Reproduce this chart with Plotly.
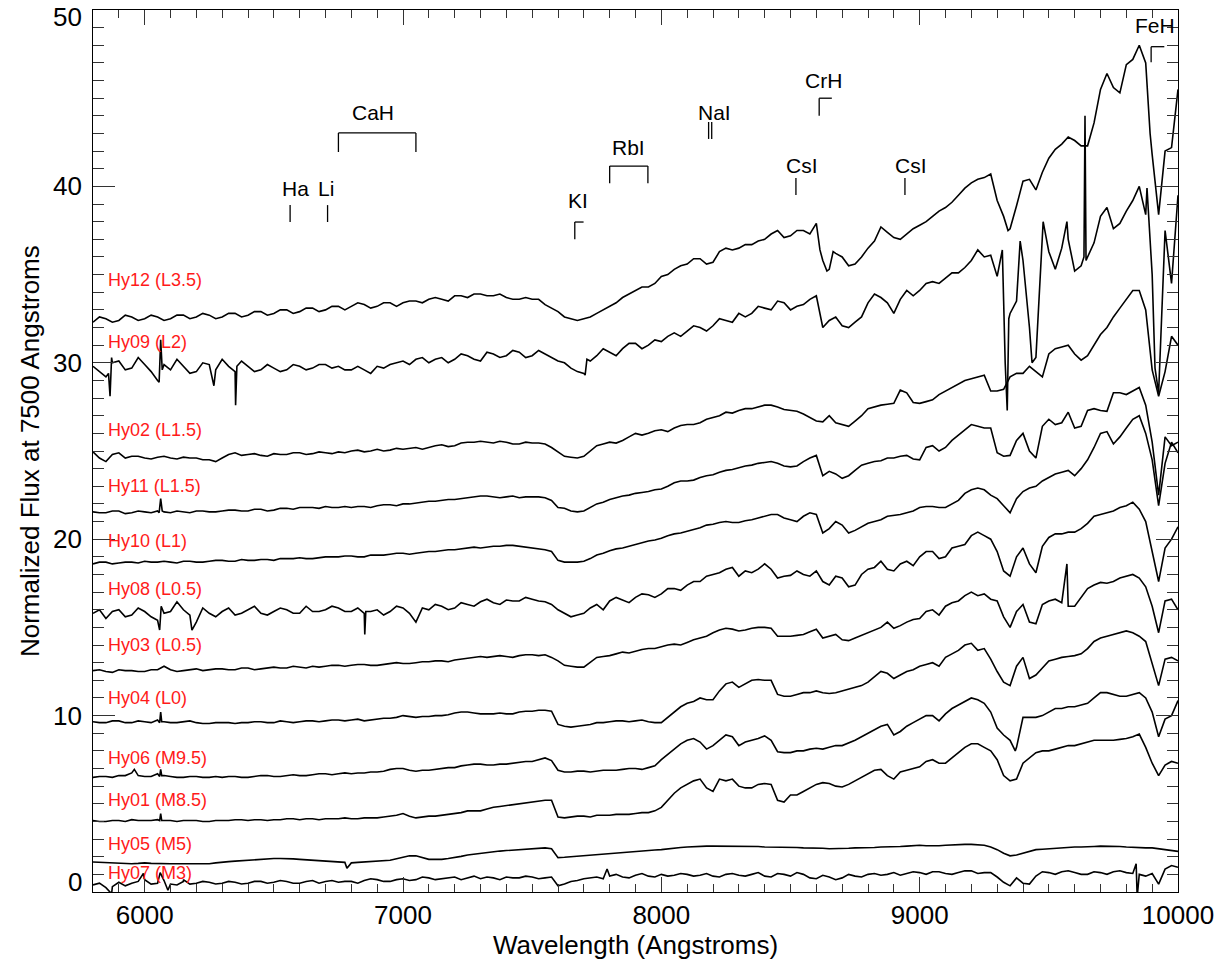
import plotly.graph_objects as go

# ---------------- data ----------------
WAVE = list(range(5800, 9901, 50)) + [9925, 9950, 9975, 10000]   # main sampling
WAVE_MID = list(range(5825, 9876, 50))                              # in-between samples

NAMES = ["Hy12 (L3.5)", "Hy09 (L2)", "Hy02 (L1.5)", "Hy11 (L1.5)", "Hy10 (L1)",
         "Hy08 (L0.5)", "Hy03 (L0.5)", "Hy04 (L0)", "Hy06 (M9.5)", "Hy01 (M8.5)",
         "Hy05 (M5)", "Hy07 (M3)"]
LABEL_Y = [34.7, 31.2, 26.2, 23.0, 19.9, 17.2, 14.0, 11.0, 7.6, 5.2, 2.7, 1.1]
LABEL_X = 5850

HY12 = [32.3, 32.5, 32.4, 32.6, 32.5, 32.6, 32.5, 32.7, 32.6, 32.7,
        32.6, 32.8, 32.7, 32.9, 32.8, 33.0, 32.9, 33.1, 33.0, 33.2,
        33.2, 33.3, 33.2, 33.4, 33.4, 33.5, 33.6, 33.6, 33.8, 33.7,
        33.9, 33.8, 33.7, 33.6, 33.6, 33.3, 32.9, 32.5, 32.5, 32.8,
        33.2, 33.7, 34.1, 34.3, 34.9, 35.3, 35.6, 35.9, 35.7, 36.5,
        36.5, 36.7, 37.0, 37.5, 37.2, 37.5, 37.9, 35.3, 36.0, 35.6,
        36.5, 37.7, 37.1, 37.3, 37.8, 38.3, 38.8, 39.5, 40.2, 40.5,
        39.2, 37.6, 40.3, 39.8, 41.6, 42.4, 42.6, 42.3, 45.5, 45.6,
        46.9, 48.0, 41.8, 38.4, 42.0, 42.2, 45.5]
HY12_MID = [32.6, 32.3, 32.7, 32.4, 32.7, 32.4, 32.7, 32.5, 32.8, 32.5,
            32.8, 32.6, 32.9, 32.7, 33.0, 32.8, 33.1, 32.9, 33.2, 33.0,
            33.4, 33.1, 33.4, 33.2, 33.5, 33.4, 33.7, 33.5, 33.8, 33.9,
            33.8, 33.9, 33.6, 33.7, 33.6, 33.1, 32.6, 32.4, 32.6, 33.0,
            33.4, 33.9, 34.3, 34.5, 35.0, 35.5, 35.9, 35.6, 36.3, 36.4,
            36.7, 36.9, 37.3, 37.1, 37.5, 37.3, 35.8, 36.2, 35.5, 36.0,
            36.9, 37.4, 37.0, 37.6, 38.0, 38.6, 39.1, 39.9, 40.4, 40.7,
            38.3, 38.9, 40.4, 40.8, 42.1, 42.8, 42.3, 43.6, 46.4, 45.3,
            47.2, 47.0]
HY12_EXTRA = [(8614, 36.4), (8641, 35.2), (8665, 36.3), (9342, 37.5),
              (9892, 43.0), (9911, 40.2)]

HY09 = [29.8, 29.2, 30.1, 29.7, 29.9, 29.0, 29.6, 29.8, 29.5, 29.9,
        30.2, 29.5, 29.8, 29.6, 29.7, 29.6, 29.8, 29.7, 29.9, 29.8,
        29.6, 29.6, 29.8, 29.9, 30.1, 30.2, 30.0, 30.3, 30.2, 30.4,
        30.1, 30.5, 30.4, 30.6, 30.4, 30.5, 30.1, 29.7, 29.4, 30.4,
        30.6, 30.8, 31.1, 31.0, 31.2, 31.7, 31.8, 32.0, 32.1, 32.4,
        32.8, 32.8, 33.1, 33.5, 33.0, 33.3, 33.8, 32.4, 32.1, 32.3,
        33.4, 33.7, 32.8, 34.1, 34.1, 34.6, 34.8, 35.1, 35.8, 36.0,
        34.9, 32.8, 35.8, 30.3, 36.3, 36.5, 35.2, 36.0, 38.3, 37.6,
        38.6, 40.0, 35.0, 28.3, 37.5, 34.5, 39.5]
HY09_MID = [29.5, 30.0, 29.6, 30.3, 29.5, 29.9, 30.2, 29.4, 30.0, 29.6,
            29.8, 30.1, 29.5, 29.9, 29.5, 29.9, 29.6, 29.9, 29.7, 29.6,
            29.8, 29.4, 29.7, 30.0, 29.9, 30.3, 30.2, 30.0, 30.5, 30.2,
            30.6, 30.3, 30.7, 30.3, 30.7, 30.3, 30.0, 29.5, 30.1, 30.8,
            30.4, 31.1, 30.8, 31.3, 31.5, 31.5, 32.1, 31.8, 32.5, 32.3,
            32.6, 33.2, 33.0, 33.4, 33.2, 33.6, 32.0, 32.6, 32.0, 32.6,
            33.9, 33.4, 33.6, 33.8, 34.5, 34.5, 35.1, 35.4, 36.4, 36.1,
            33.5, 33.5, 32.0, 37.5, 35.3, 37.0, 35.5, 36.8, 38.8, 37.9,
            39.2, 38.4]
HY09_EXTRA = [(5860, 29.4), (5866, 28.1), (5872, 30.3), (6056, 28.9), (6062, 31.3),
              (6068, 29.6), (6268, 28.7), (6352, 27.6), (6357, 29.8), (7705, 29.3),
              (7712, 30.2), (9320, 36.4), (9331, 30.0), (9339, 27.3), (9345, 32.5),
              (9389, 36.9), (9435, 30.0), (9478, 38.0), (9570, 38.0), (9636, 36.0),
              (9640, 44.0), (9644, 35.8), (9880, 39.9), (9911, 29.7)]

HY02 = [24.95, 24.4, 24.9, 24.7, 24.6, 24.65, 24.6, 24.65, 24.6, 24.5,
        24.6, 24.9, 24.8, 24.75, 24.85, 24.8, 24.9, 24.85, 24.9, 24.95,
        25.0, 24.95, 25.1, 25.05, 25.1, 25.2, 25.2, 25.35, 25.3, 25.5,
        25.55, 25.45, 25.5, 25.4, 25.45, 25.4, 24.95, 24.65, 24.7, 25.3,
        25.5, 25.6, 26.0, 26.0, 26.2, 26.3, 26.5, 26.6, 26.9, 27.2,
        27.3, 27.4, 27.6, 27.5, 27.3, 27.1, 26.7, 27.0, 26.5, 26.7,
        27.4, 27.6, 27.7, 28.3, 27.7, 27.9, 28.4, 28.8, 29.1, 29.3,
        28.4, 29.2, 29.4, 29.5, 30.5, 30.9, 30.5, 30.4, 31.6, 32.6,
        33.6, 34.1, 29.6, 28.1, 29.5, 31.5, 31.0]
HY02_MID = [24.6, 24.8, 24.6, 24.7, 24.55, 24.7, 24.55, 24.6, 24.5, 24.4,
            24.8, 24.75, 24.85, 24.7, 24.8, 24.9, 24.8, 24.95, 24.85, 24.9,
            25.05, 25.0, 25.0, 25.15, 25.15, 25.1, 25.3, 25.25, 25.45, 25.5,
            25.5, 25.55, 25.4, 25.5, 25.45, 25.2, 24.7, 24.6, 25.0, 25.4,
            25.45, 25.8, 25.9, 26.15, 26.1, 26.45, 26.5, 26.8, 27.0, 27.15,
            27.4, 27.5, 27.6, 27.35, 27.25, 26.9, 26.65, 26.6, 26.4, 27.0,
            27.5, 27.65, 28.45, 27.75, 27.8, 28.2, 28.6, 29.0, 29.2, 28.4,
            28.5, 29.4, 29.8, 29.2, 30.8, 31.0, 30.15, 31.0, 32.0, 33.1,
            34.1, 33.0]
HY02_EXTRA = []

HY11 = [21.55, 21.5, 21.6, 21.5, 21.55, 21.6, 21.5, 21.55, 21.6, 21.55,
        21.6, 21.65, 21.6, 21.7, 21.65, 21.75, 21.8, 21.8, 21.85, 21.8,
        21.8, 21.85, 21.9, 21.95, 22.0, 22.05, 22.15, 22.2, 22.25, 22.35,
        22.45, 22.4, 22.4, 22.35, 22.4, 22.35, 21.8, 21.6, 21.6, 22.0,
        22.25, 22.45, 22.6, 22.7, 22.85, 23.2, 23.3, 23.5, 23.65, 23.9,
        24.05, 24.2, 24.35, 24.3, 24.1, 24.4, 24.75, 23.85, 23.45, 23.9,
        24.3, 24.45, 24.6, 24.75, 24.5, 25.3, 25.2, 25.9, 26.5, 26.3,
        24.9, 24.75, 26.0, 24.6, 26.8, 26.6, 26.3, 27.3, 27.3, 28.3,
        28.2, 28.6, 25.5, 22.5, 25.8, 25.3, 25.5]
HY11_MID = [21.5, 21.6, 21.45, 21.6, 21.5, 21.55, 21.6, 21.5, 21.6, 21.55,
            21.65, 21.6, 21.7, 21.6, 21.75, 21.7, 21.8, 21.75, 21.8, 21.85,
            21.85, 21.8, 21.95, 21.9, 22.0, 22.1, 22.15, 22.25, 22.3, 22.4,
            22.45, 22.35, 22.45, 22.4, 22.4, 22.2, 21.75, 21.55, 21.8, 22.1,
            22.35, 22.5, 22.65, 22.8, 23.0, 23.3, 23.35, 23.6, 23.8, 23.95,
            24.15, 24.3, 24.4, 24.15, 24.15, 24.6, 23.6, 23.7, 23.6, 24.2,
            24.4, 24.6, 24.7, 24.55, 25.2, 25.0, 25.6, 26.2, 26.4, 26.3,
            24.7, 25.6, 25.0, 26.4, 26.5, 27.2, 26.4, 27.4, 27.25, 28.3,
            28.4, 27.6]
HY11_EXTRA = [(6056, 21.5), (6062, 22.3), (6068, 21.6)]

HY10 = [18.6, 18.7, 18.65, 18.7, 18.75, 18.7, 18.7, 18.75, 18.7, 18.75,
        18.8, 18.75, 18.8, 18.85, 18.8, 18.9, 18.95, 18.9, 19.0, 19.0,
        19.05, 19.0, 19.1, 19.15, 19.2, 19.2, 19.3, 19.35, 19.4, 19.5,
        19.5, 19.6, 19.65, 19.6, 19.5, 19.4, 18.8, 18.7, 18.75, 19.1,
        19.35, 19.5, 19.7, 19.9, 20.05, 20.3, 20.45, 20.65, 20.85, 21.0,
        20.95, 21.1, 21.3, 21.4, 21.1, 21.3, 21.4, 20.6, 20.8, 20.5,
        20.9, 21.1, 21.35, 21.5, 21.8, 21.85, 21.8, 22.2, 22.8, 22.8,
        22.3, 21.5, 22.7, 23.0, 23.5, 23.8, 23.6, 24.5, 26.0, 25.4,
        26.3, 27.0, 24.5, 21.9, 24.3, 25.5, 24.9]
HY10_MID = [18.7, 18.6, 18.7, 18.65, 18.7, 18.75, 18.65, 18.75, 18.7, 18.8,
            18.75, 18.85, 18.8, 18.85, 18.9, 18.9, 18.9, 18.95, 19.0, 19.05,
            19.0, 19.1, 19.1, 19.2, 19.15, 19.25, 19.3, 19.4, 19.45, 19.55,
            19.55, 19.6, 19.65, 19.55, 19.45, 19.3, 18.7, 18.7, 18.9, 19.2,
            19.45, 19.6, 19.8, 19.95, 20.2, 20.35, 20.55, 20.8, 20.95, 20.95,
            21.05, 21.2, 21.4, 21.2, 21.0, 21.5, 20.35, 21.0, 20.35, 20.7,
            21.0, 21.3, 21.4, 21.6, 21.85, 21.8, 22.0, 22.6, 22.9, 22.5,
            21.9, 22.3, 22.9, 23.3, 23.7, 23.9, 24.0, 25.2, 26.1, 25.8,
            26.8, 26.0]
HY10_EXTRA = []

HY08 = [15.8, 15.5, 16.0, 15.7, 15.9, 15.4, 15.9, 16.0, 15.3, 15.8,
        15.9, 15.7, 16.0, 15.8, 15.9, 16.0, 15.8, 15.9, 16.0, 16.1,
        15.9, 15.8, 16.0, 15.9, 16.1, 15.3, 16.0, 16.2, 16.1, 16.3,
        16.45, 16.4, 16.55, 16.5, 16.6, 16.45, 16.0, 15.6, 15.8, 16.3,
        16.5, 16.55, 16.7, 16.85, 16.9, 17.2, 17.4, 17.6, 18.0, 18.3,
        17.9, 18.1, 18.6, 17.8, 17.95, 18.0, 18.2, 17.4, 17.8, 17.4,
        18.3, 18.75, 18.2, 18.75, 19.0, 19.3, 19.0, 19.6, 20.2, 20.2,
        19.3, 17.9, 19.5, 18.1, 20.1, 20.3, 20.4, 20.9, 21.4, 21.6,
        21.9, 21.7, 19.3, 17.6, 19.5, 20.0, 20.7]
HY08_MID = [16.0, 15.9, 15.6, 16.1, 15.6, 15.8, 16.45, 15.7, 16.1, 15.6,
            16.1, 15.8, 16.2, 15.7, 16.1, 15.8, 16.2, 15.9, 16.2, 15.9,
            16.1, 15.9, 15.7, 16.2, 15.8, 16.1, 16.3, 16.0, 16.4, 16.2,
            16.6, 16.3, 16.5, 16.7, 16.5, 16.3, 15.8, 15.7, 16.1, 16.0,
            16.7, 16.4, 16.9, 16.7, 17.2, 17.1, 17.6, 17.9, 18.1, 18.4,
            18.2, 18.3, 18.3, 17.9, 18.2, 17.9, 17.6, 17.9, 17.3, 18.0,
            18.4, 18.3, 18.6, 18.5, 19.3, 18.9, 19.5, 19.7, 20.4, 20.0,
            18.2, 19.0, 18.6, 19.6, 20.3, 20.4, 20.6, 21.3, 21.5, 21.8,
            22.1, 21.0]
HY08_EXTRA = [(6058, 14.85), (6064, 16.2), (6183, 14.85), (6852, 14.6), (6856, 15.9)]

HY03 = [12.55, 12.5, 12.6, 12.55, 12.5, 12.6, 12.6, 12.55, 12.65, 12.6,
        12.65, 12.6, 12.7, 12.65, 12.75, 12.7, 12.75, 12.8, 12.8, 12.85,
        12.85, 12.9, 12.85, 12.95, 12.95, 13.0, 13.05, 13.1, 13.15, 13.25,
        13.35, 13.35, 13.35, 13.4, 13.45, 13.45, 13.1, 12.8, 12.75, 13.3,
        13.4, 13.6, 13.65, 13.8, 13.9, 14.05, 14.15, 14.4, 14.7, 14.95,
        14.8, 14.95, 15.0, 14.5, 14.5, 14.6, 14.9, 14.5, 14.3, 14.4,
        14.7, 15.0, 14.95, 15.3, 15.5, 16.0, 16.2, 16.5, 17.0, 16.9,
        16.5, 15.0, 16.3, 15.2, 16.5, 16.4, 16.2, 17.2, 17.55, 17.6,
        17.9, 17.8, 16.2, 14.7, 16.5, 16.6, 16.0]
HY03_MID = [12.6, 12.45, 12.55, 12.5, 12.6, 12.8, 12.5, 12.6, 12.55, 12.65,
            12.6, 12.7, 12.6, 12.7, 12.7, 12.8, 12.7, 12.75, 12.85, 12.8,
            12.9, 12.85, 12.9, 13.0, 12.95, 13.05, 13.1, 13.05, 13.2, 13.3,
            13.3, 13.4, 13.3, 13.45, 13.4, 13.3, 12.85, 12.75, 13.0, 13.35,
            13.5, 13.55, 13.75, 13.8, 14.0, 14.0, 14.3, 14.5, 14.85, 14.9,
            14.85, 15.0, 14.95, 14.5, 14.55, 14.75, 14.4, 14.6, 14.25, 14.55,
            14.85, 15.3, 15.1, 15.45, 15.9, 15.7, 16.4, 16.8, 16.8, 16.6,
            15.6, 15.9, 15.3, 16.3, 16.6, 16.2, 16.7, 17.4, 17.5, 17.8,
            18.0, 17.3]
HY03_EXTRA = [(9570, 18.6)]

HY04 = [9.65, 9.6, 9.7, 9.6, 9.65, 9.75, 9.6, 9.65, 9.6, 9.55,
        9.6, 9.55, 9.6, 9.65, 9.6, 9.65, 9.65, 9.7, 9.7, 9.75,
        9.75, 9.7, 9.8, 9.85, 10.0, 9.9, 9.95, 10.0, 10.15, 10.2,
        10.1, 10.1, 10.1, 10.2, 10.25, 10.3, 9.5, 9.35, 9.45, 9.6,
        9.65, 9.7, 9.7, 9.65, 9.6, 10.2, 10.7, 11.0, 10.9, 11.8,
        11.6, 12.0, 12.0, 11.2, 11.1, 11.3, 11.4, 11.25, 11.4, 11.6,
        11.9, 12.5, 12.1, 12.5, 12.8, 13.0, 13.3, 13.7, 14.1, 13.8,
        12.5, 11.7, 13.3, 12.3, 13.1, 13.3, 13.4, 13.8, 14.4, 14.6,
        14.8, 14.5, 13.0, 11.7, 13.2, 13.3, 13.1]
HY04_MID = [9.6, 9.7, 9.6, 9.7, 9.6, 9.65, 9.6, 9.7, 9.55, 9.6,
            9.6, 9.6, 9.65, 9.6, 9.7, 9.6, 9.7, 9.65, 9.75, 9.7,
            9.8, 9.75, 9.85, 9.9, 9.95, 9.95, 10.0, 10.05, 10.2, 10.15,
            10.1, 10.15, 10.1, 10.25, 10.3, 10.25, 9.4, 9.4, 9.5, 9.6,
            9.7, 9.65, 9.75, 9.6, 9.9, 10.5, 10.8, 10.9, 11.4, 11.9,
            11.8, 12.05, 12.0, 11.1, 11.2, 11.3, 11.3, 11.3, 11.5, 11.7,
            12.2, 12.4, 12.3, 12.6, 12.9, 12.8, 13.5, 14.0, 13.7, 13.2,
            11.9, 12.8, 12.1, 12.7, 13.2, 13.35, 13.5, 14.2, 14.5, 14.7,
            14.7, 14.2]
HY04_EXTRA = [(6058, 9.6), (6062, 10.2), (6066, 9.65)]

HY06 = [6.5, 6.55, 6.6, 6.75, 6.55, 6.7, 6.55, 6.5, 6.55, 6.5,
        6.5, 6.55, 6.5, 6.6, 6.55, 6.6, 6.6, 6.65, 6.7, 6.7,
        6.7, 6.75, 6.8, 6.95, 7.0, 6.85, 6.9, 7.0, 7.05, 7.2,
        7.25, 7.2, 7.25, 7.35, 7.4, 7.6, 6.9, 6.8, 6.85, 6.85,
        6.9, 6.95, 7.0, 7.05, 7.5, 8.1, 8.6, 8.5, 8.3, 8.9,
        8.3, 8.6, 8.85, 7.95, 7.9, 8.0, 8.15, 8.2, 8.3, 8.6,
        9.0, 9.4, 8.9, 9.4, 9.8, 10.0, 10.1, 10.6, 11.0, 10.7,
        9.3, 8.6, 9.9, 9.9, 10.2, 10.4, 10.5, 10.7, 11.3, 11.2,
        11.1, 11.3, 10.2, 8.8, 9.8, 10.0, 10.85]
HY06_MID = [6.55, 6.5, 6.6, 6.6, 6.55, 6.6, 6.5, 6.55, 6.5, 6.55,
            6.55, 6.5, 6.55, 6.6, 6.55, 6.65, 6.6, 6.7, 6.65, 6.75,
            6.75, 6.8, 6.85, 7.0, 6.9, 6.9, 6.95, 7.05, 7.15, 7.25,
            7.2, 7.25, 7.3, 7.4, 7.5, 7.45, 6.8, 6.85, 6.8, 6.9,
            6.9, 7.0, 6.95, 7.15, 7.8, 8.4, 8.7, 8.1, 8.6, 8.8,
            8.5, 8.7, 8.6, 7.9, 8.0, 8.1, 8.1, 8.3, 8.45, 8.8,
            9.2, 9.5, 9.1, 9.6, 10.0, 9.7, 10.4, 10.8, 10.9, 10.2,
            8.9, 8.2, 9.9, 10.0, 10.4, 10.5, 10.6, 11.0, 11.3, 11.1,
            11.2, 11.0]
HY06_EXTRA = [(5960, 6.95), (6058, 6.55), (6062, 6.95), (6066, 6.6), (9370, 8.0)]

HY01 = [4.05, 4.0, 4.05, 4.1, 4.05, 4.1, 4.05, 4.05, 4.05, 4.0,
        4.05, 4.1, 4.05, 4.1, 4.1, 4.15, 4.1, 4.15, 4.15, 4.15,
        4.15, 4.2, 4.2, 4.3, 4.45, 4.2, 4.3, 4.35, 4.45, 4.6,
        4.6, 4.8, 4.9, 5.0, 5.1, 5.2, 4.25, 4.25, 4.3, 4.35,
        4.35, 4.4, 4.45, 4.5, 4.8, 5.6, 6.1, 6.4, 5.7, 6.3,
        6.0, 5.9, 6.15, 5.2, 5.5, 5.7, 6.1, 6.15, 5.95, 6.3,
        6.7, 6.95, 6.4, 6.9, 7.1, 7.5, 7.3, 7.9, 8.4, 8.2,
        7.5, 6.3, 7.3, 7.9, 8.0, 8.2, 8.3, 8.5, 8.6, 8.6,
        8.7, 8.95, 7.3, 6.6, 7.2, 7.4, 7.3]
HY01_MID = [4.0, 4.05, 4.0, 4.05, 4.05, 4.05, 4.0, 4.05, 4.0, 4.05,
            4.05, 4.1, 4.1, 4.05, 4.1, 4.15, 4.15, 4.1, 4.15, 4.2,
            4.15, 4.2, 4.25, 4.35, 4.3, 4.25, 4.3, 4.4, 4.5, 4.6,
            4.7, 4.85, 4.95, 5.05, 5.15, 5.2, 4.2, 4.3, 4.25, 4.35,
            4.4, 4.4, 4.5, 4.6, 5.2, 5.9, 6.3, 5.9, 6.4, 6.4,
            5.9, 6.1, 6.1, 5.1, 5.5, 5.9, 6.2, 6.0, 6.1, 6.5,
            6.9, 6.6, 6.8, 7.0, 7.4, 7.3, 7.6, 8.2, 8.4, 8.0,
            6.6, 6.4, 7.6, 8.0, 8.1, 8.3, 8.4, 8.6, 8.6, 8.65,
            8.8, 8.2]
HY01_EXTRA = [(6058, 4.05), (6062, 4.45), (6066, 4.05)]

HY05 = [1.7, 1.65, 1.6, 1.6, 1.65, 1.6, 1.6, 1.6, 1.6, 1.6,
        1.7, 1.75, 1.8, 1.85, 1.9, 1.9, 1.85, 1.8, 1.75, 1.7,
        1.65, 1.7, 1.75, 1.8, 1.95, 2.05, 1.85, 1.85, 1.95, 2.1,
        2.2, 2.3, 2.35, 2.4, 2.45, 2.5, 1.95, 2.0, 2.05, 2.15,
        2.2, 2.25, 2.3, 2.35, 2.4, 2.5, 2.55, 2.6, 2.6, 2.6,
        2.6, 2.6, 2.55, 2.55, 2.55, 2.5, 2.5, 2.45, 2.45, 2.5,
        2.5, 2.55, 2.55, 2.6, 2.65, 2.6, 2.65, 2.7, 2.7, 2.65,
        2.4, 2.05, 2.2, 2.4, 2.45, 2.5, 2.55, 2.55, 2.6, 2.6,
        2.55, 2.5, 2.5, 2.45, 2.4, 2.35, 2.3]
HY05_MID = [1.68, 1.62, 1.6, 1.62, 1.62, 1.6, 1.6, 1.6, 1.62, 1.65,
            1.72, 1.78, 1.82, 1.88, 1.9, 1.88, 1.82, 1.78, 1.72, 1.68,
            1.68, 1.72, 1.78, 1.88, 2.05, 1.95, 1.85, 1.9, 2.02, 2.15,
            2.25, 2.32, 2.38, 2.42, 2.48, 2.45, 1.97, 2.02, 2.1, 2.18,
            2.22, 2.28, 2.32, 2.38, 2.45, 2.52, 2.58, 2.6, 2.6, 2.6,
            2.6, 2.58, 2.55, 2.55, 2.52, 2.5, 2.48, 2.45, 2.48, 2.5,
            2.52, 2.55, 2.58, 2.62, 2.62, 2.62, 2.68, 2.7, 2.68, 2.55,
            2.2, 2.1, 2.3, 2.42, 2.48, 2.52, 2.55, 2.58, 2.6, 2.58,
            2.52, 2.5]
HY05_EXTRA = [(6783, 1.35)]

HY07 = [0.4, 0.25, 0.55, 0.5, 0.7, 0.5, 0.45, 0.6, 0.5, 0.55,
        0.5, 0.55, 0.5, 0.6, 0.55, 0.6, 0.5, 0.65, 0.6, 0.55,
        0.6, 0.65, 0.7, 0.6, 0.75, 0.7, 0.8, 0.75, 0.85, 0.8,
        0.75, 0.8, 0.85, 0.8, 0.85, 0.8, 0.35, 0.6, 0.75, 0.85,
        0.9, 0.85, 0.95, 0.9, 1.0, 0.95, 1.0, 0.95, 0.9, 1.0,
        0.95, 1.0, 0.9, 1.05, 0.9, 1.0, 0.75, 0.85, 0.8, 0.9,
        1.0, 0.95, 1.1, 1.05, 1.1, 1.15, 1.05, 1.1, 1.2, 1.1,
        0.85, 0.35, 0.5, 0.9, 1.1, 1.15, 1.1, 1.0, 1.1, 1.15,
        1.1, 1.0, 1.05, 0.45, 1.3, 1.5, 1.4]
HY07_MID = [0.5, 0.3, 0.35, 0.6, 0.45, 0.65, 0.4, 0.45, 0.6, 0.45,
            0.6, 0.45, 0.6, 0.5, 0.65, 0.5, 0.6, 0.5, 0.65, 0.6,
            0.5, 0.75, 0.6, 0.7, 0.65, 0.85, 0.7, 0.8, 0.7, 0.9,
            0.85, 0.7, 0.8, 0.9, 0.75, 0.85, 0.45, 0.65, 0.8, 0.75,
            1.0, 0.8, 1.05, 0.85, 0.9, 1.05, 0.9, 1.05, 0.85, 1.05,
            0.9, 1.1, 0.85, 1.0, 1.1, 0.8, 0.95, 0.7, 1.0, 0.85,
            1.05, 1.0, 0.95, 1.15, 1.0, 1.15, 1.0, 1.2, 1.05, 1.1,
            0.55, 0.8, 0.45, 1.15, 1.0, 1.2, 1.0, 1.15, 1.0, 1.2,
            1.05, 0.9]
HY07_EXTRA = [(5872, -0.1), (5995, 1.05), (6060, 1.1), (6090, 0.1), (6150, 0.7),
              (7790, 1.3), (9838, 1.6), (9842, -0.3)]

SERIES = [(HY12, HY12_MID, HY12_EXTRA), (HY09, HY09_MID, HY09_EXTRA),
          (HY02, HY02_MID, HY02_EXTRA), (HY11, HY11_MID, HY11_EXTRA),
          (HY10, HY10_MID, HY10_EXTRA), (HY08, HY08_MID, HY08_EXTRA),
          (HY03, HY03_MID, HY03_EXTRA), (HY04, HY04_MID, HY04_EXTRA),
          (HY06, HY06_MID, HY06_EXTRA), (HY01, HY01_MID, HY01_EXTRA),
          (HY05, HY05_MID, HY05_EXTRA), (HY07, HY07_MID, HY07_EXTRA)]

# feature markers
FEAT_TEXT = ["Ha", "Li", "CaH", "KI", "RbI", "NaI", "CsI", "CsI", "CrH", "FeH"]
FEAT_TX = [6582, 6702, 6884, 7678, 7871, 8204, 8545, 8967, 8626, 9911]
FEAT_TY = [39.9, 39.9, 44.2, 39.2, 42.2, 44.2, 41.2, 41.2, 46.0, 49.1]
FEAT_SEGS = [
    [(6563, 37.98, 6563, 38.94)],
    [(6708, 37.98, 6708, 38.94)],
    [(6750, 41.95, 6750, 43.03), (6750, 43.03, 7050, 43.03), (7050, 43.03, 7050, 41.95)],
    [(7665, 37.01, 7665, 37.98), (7665, 37.98, 7699, 37.98)],
    [(7800, 40.18, 7800, 41.15), (7800, 41.15, 7948, 41.15), (7948, 41.15, 7948, 40.18)],
    [(8183, 42.69, 8183, 43.65), (8195, 42.69, 8195, 43.65)],
    [(8521, 39.51, 8521, 40.48)],
    [(8943, 39.51, 8943, 40.48)],
    [(8611, 44.0, 8611, 45.0), (8611, 45.0, 8660, 45.0)],
    [(9896, 47.04, 9896, 47.92), (9896, 47.92, 9947, 47.92)],
]

X_TICKS = [6000, 7000, 8000, 9000, 10000]
Y_TICKS = [0, 10, 20, 30, 40, 50]

# ---------------- figure ----------------
FONT = "Liberation Sans, Arial, Helvetica, sans-serif"
fig = go.Figure()

for base, mid, extra in SERIES:
    assert len(base) == len(WAVE) and len(mid) == len(WAVE_MID), (len(base), len(mid))
    pts = sorted(list(zip(WAVE, base)) + list(zip(WAVE_MID, mid)) + list(extra))
    fig.add_trace(go.Scatter(x=[p[0] for p in pts], y=[p[1] for p in pts], mode="lines",
                             line=dict(color="black", width=1.6), showlegend=False,
                             hoverinfo="skip"))

annotations = []
for name, ly in zip(NAMES, LABEL_Y):
    annotations.append(dict(x=LABEL_X, y=ly, xref="x", yref="y", text=name, showarrow=False,
                            xanchor="left", yanchor="middle",
                            font=dict(family=FONT, size=18, color="#ff1a1a")))
for t, tx, ty in zip(FEAT_TEXT, FEAT_TX, FEAT_TY):
    annotations.append(dict(x=tx, y=ty, xref="x", yref="y", text=t, showarrow=False,
                            xanchor="center", yanchor="middle",
                            font=dict(family=FONT, size=21, color="black")))
for v in Y_TICKS:
    shift = -7 if v == 50 else (10 if v == 0 else 0)
    annotations.append(dict(x=0, y=v, xref="paper", yref="y", text=str(v), showarrow=False,
                            xanchor="right", yanchor="middle", xshift=-9, yshift=shift,
                            font=dict(family=FONT, size=26, color="black")))
annotations.append(dict(x=0.5, y=-0.0606, xref="paper", yref="paper",
                        text="Wavelength (Angstroms)", showarrow=False,
                        xanchor="center", yanchor="middle",
                        font=dict(family=FONT, size=26, color="black")))
annotations.append(dict(x=-0.058, y=0.5, xref="paper", yref="paper",
                        text="Normalized Flux at 7500 Angstroms", showarrow=False,
                        textangle=-90, xanchor="center", yanchor="middle",
                        font=dict(family=FONT, size=26, color="black")))

shapes = []
for segs in FEAT_SEGS:
    for (x0, y0, x1, y1) in segs:
        shapes.append(dict(type="line", xref="x", yref="y", x0=x0, y0=y0, x1=x1, y1=y1,
                           line=dict(color="black", width=1.3)))

fig.update_layout(
    width=1227, height=965,
    margin=dict(l=93, r=49, t=10, b=73, pad=0),
    paper_bgcolor="white", plot_bgcolor="white",
    annotations=annotations, shapes=shapes,
    xaxis=dict(range=[5800, 10000], tickvals=X_TICKS, ticktext=[str(v) for v in X_TICKS],
               ticks="inside", ticklen=15, tickwidth=1, tickcolor="#333",
               showline=True, linecolor="black", linewidth=1.2, mirror="allticks",
               showgrid=False, zeroline=False,
               tickfont=dict(family=FONT, size=26, color="black"),
               minor=dict(dtick=100, ticks="inside", ticklen=8, tickcolor="#333",
                          showgrid=False)),
    yaxis=dict(range=[0, 50], tickvals=Y_TICKS, showticklabels=False,
               ticks="inside", ticklen=22, tickwidth=1, tickcolor="#333",
               showline=True, linecolor="black", linewidth=1.2, mirror="allticks",
               showgrid=False, zeroline=False,
               minor=dict(dtick=1, ticks="inside", ticklen=11, tickcolor="#333",
                          showgrid=False)),
)

fig.write_html("out.html")
